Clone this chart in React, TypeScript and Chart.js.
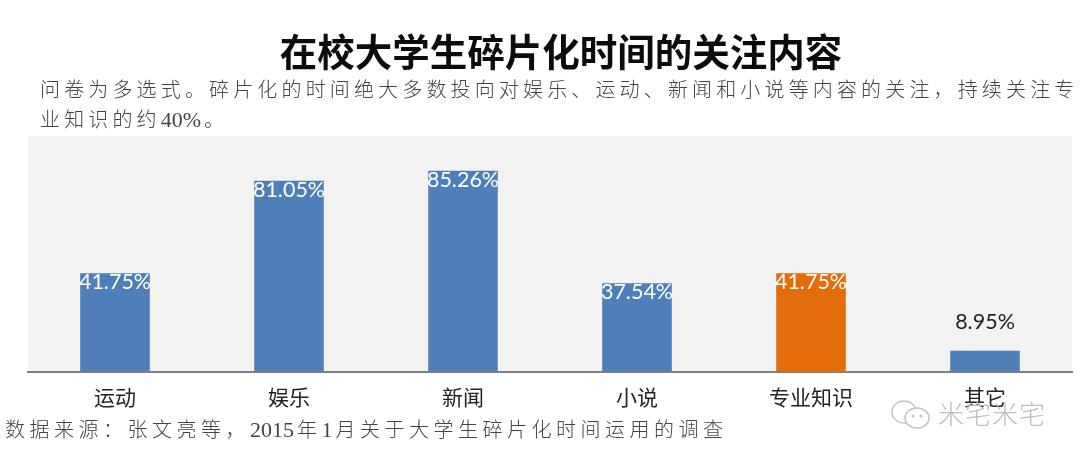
import { useEffect, useRef } from "react";
import { Chart, registerables, type Plugin } from "chart.js";

Chart.register(...registerables);

const categories = ["运动", "娱乐", "新闻", "小说", "专业知识", "其它"];
const shares = [41.75, 81.05, 85.26, 37.54, 41.75, 8.95];
const barColors = ["#4f7fb9", "#4f7fb9", "#4f7fb9", "#4f7fb9", "#e46c0a", "#4f7fb9"];

const titleText = "在校大学生碎片化时间的关注内容";
const noteLines = [
  "问卷为多选式。碎片化的时间绝大多数投向对娱乐、运动、新闻和小说等内容的关注，持续关注专",
  "业知识的约40%。",
];
const sourceText = "数据来源：张文亮等，2015年1月关于大学生碎片化时间运用的调查";
const watermark = "米宅米宅";

const CJK = '"Noto Sans CJK SC", sans-serif';
const BODY = '"Liberation Serif", "Noto Sans CJK SC", serif';

// grey panel behind the bars
const panelPlugin: Plugin<"bar"> = {
  id: "panel",
  beforeDraw(chart) {
    const { ctx, chartArea: a } = chart;
    ctx.save();
    ctx.fillStyle = "#f2f2f3";
    ctx.fillRect(a.left, a.top, a.right - a.left, a.bottom - a.top);
    ctx.restore();
  },
};

// labels sit inside the top of the bar, short bars get them above in dark
const labelPlugin: Plugin<"bar"> = {
  id: "barLabels",
  afterDatasetsDraw(chart) {
    const { ctx } = chart;
    const bars = chart.getDatasetMeta(0).data;
    ctx.save();
    ctx.font = "21.5px Lato, sans-serif";
    ctx.textAlign = "center";
    ctx.textBaseline = "middle";
    bars.forEach((bar, i) => {
      const small = shares[i] < 20;
      ctx.fillStyle = small ? "#222222" : "#ffffff";
      ctx.fillText(shares[i].toFixed(2) + "%", bar.x, small ? bar.y - 29 : bar.y + 9);
    });
    ctx.restore();
  },
};

function textStyle(left: number, top: number, font: string, size: number, color: string, spacing = 0) {
  return {
    position: "absolute" as const,
    left,
    top,
    fontFamily: font,
    fontSize: size,
    lineHeight: "30px",
    color,
    letterSpacing: spacing,
    whiteSpace: "nowrap" as const,
  };
}

// digits in the reference are set tight, only the hanzi are spaced out
function spaced(text: string) {
  return text.split(/([0-9%]+)/).map((part, i) =>
    i % 2 === 1 ? (
      <span key={i} style={{ letterSpacing: 0, fontSize: 22, marginRight: 3 }}>
        {part}
      </span>
    ) : (
      part
    )
  );
}

export default function App() {
  const canvasRef = useRef<HTMLCanvasElement>(null);

  useEffect(() => {
    if (!canvasRef.current) return;
    const chart = new Chart(canvasRef.current, {
      type: "bar",
      data: {
        labels: categories,
        datasets: [
          {
            data: shares,
            backgroundColor: barColors,
            barPercentage: 0.4,
            categoryPercentage: 1,
          },
        ],
      },
      options: {
        responsive: false,
        animation: false,
        layout: { padding: { top: 136, left: 28, right: 8, bottom: 37 } },
        plugins: { legend: { display: false }, tooltip: { enabled: false } },
        scales: {
          x: {
            grid: { display: false, drawTicks: false },
            border: { color: "#808080", width: 2 },
            ticks: {
              color: "#222222",
              padding: 13,
              font: { size: 21, family: CJK },
              maxRotation: 0,
            },
          },
          y: { display: false, min: 0, max: 100 },
        },
      },
      plugins: [panelPlugin, labelPlugin],
    });
    return () => chart.destroy();
  }, []);

  return (
    <div style={{ position: "absolute", left: 0, top: 0, width: 1080, height: 460, background: "#fff", overflow: "hidden" }}>
      <canvas ref={canvasRef} width={1080} height={460} style={{ position: "absolute", left: 0, top: 0 }} />
      <div style={{ ...textStyle(0, 30, CJK, 37.5, "#0c0c0c"), width: 1122, textAlign: "center", lineHeight: "40px", fontWeight: 700 }}>
        {titleText}
      </div>
      <div style={{ ...textStyle(40, 75, BODY, 20, "#444444", 4.15), fontWeight: 300 }}>{spaced(noteLines[0])}</div>
      <div style={{ ...textStyle(40, 105, BODY, 20, "#444444", 4.15), fontWeight: 300 }}>{spaced(noteLines[1])}</div>
      <div style={{ ...textStyle(5, 415, BODY, 20, "#444444", 4.5), fontWeight: 300 }}>{spaced(sourceText)}</div>
      <svg width={44} height={34} style={{ position: "absolute", left: 890, top: 397 }} fill="none" stroke="#c4c4c4" strokeWidth={1.5}>
        <ellipse cx={14} cy={15} rx={12} ry={11} />
        <ellipse cx={27} cy={21} rx={12} ry={10} fill="#fff" />
        <circle cx={23} cy={19} r={0.8} />
        <circle cx={31} cy={19} r={0.8} />
      </svg>
      <div style={{ ...textStyle(938, 398, CJK, 26, "#bdbdbd", 1), fontWeight: 300 }}>{watermark}</div>
    </div>
  );
}
